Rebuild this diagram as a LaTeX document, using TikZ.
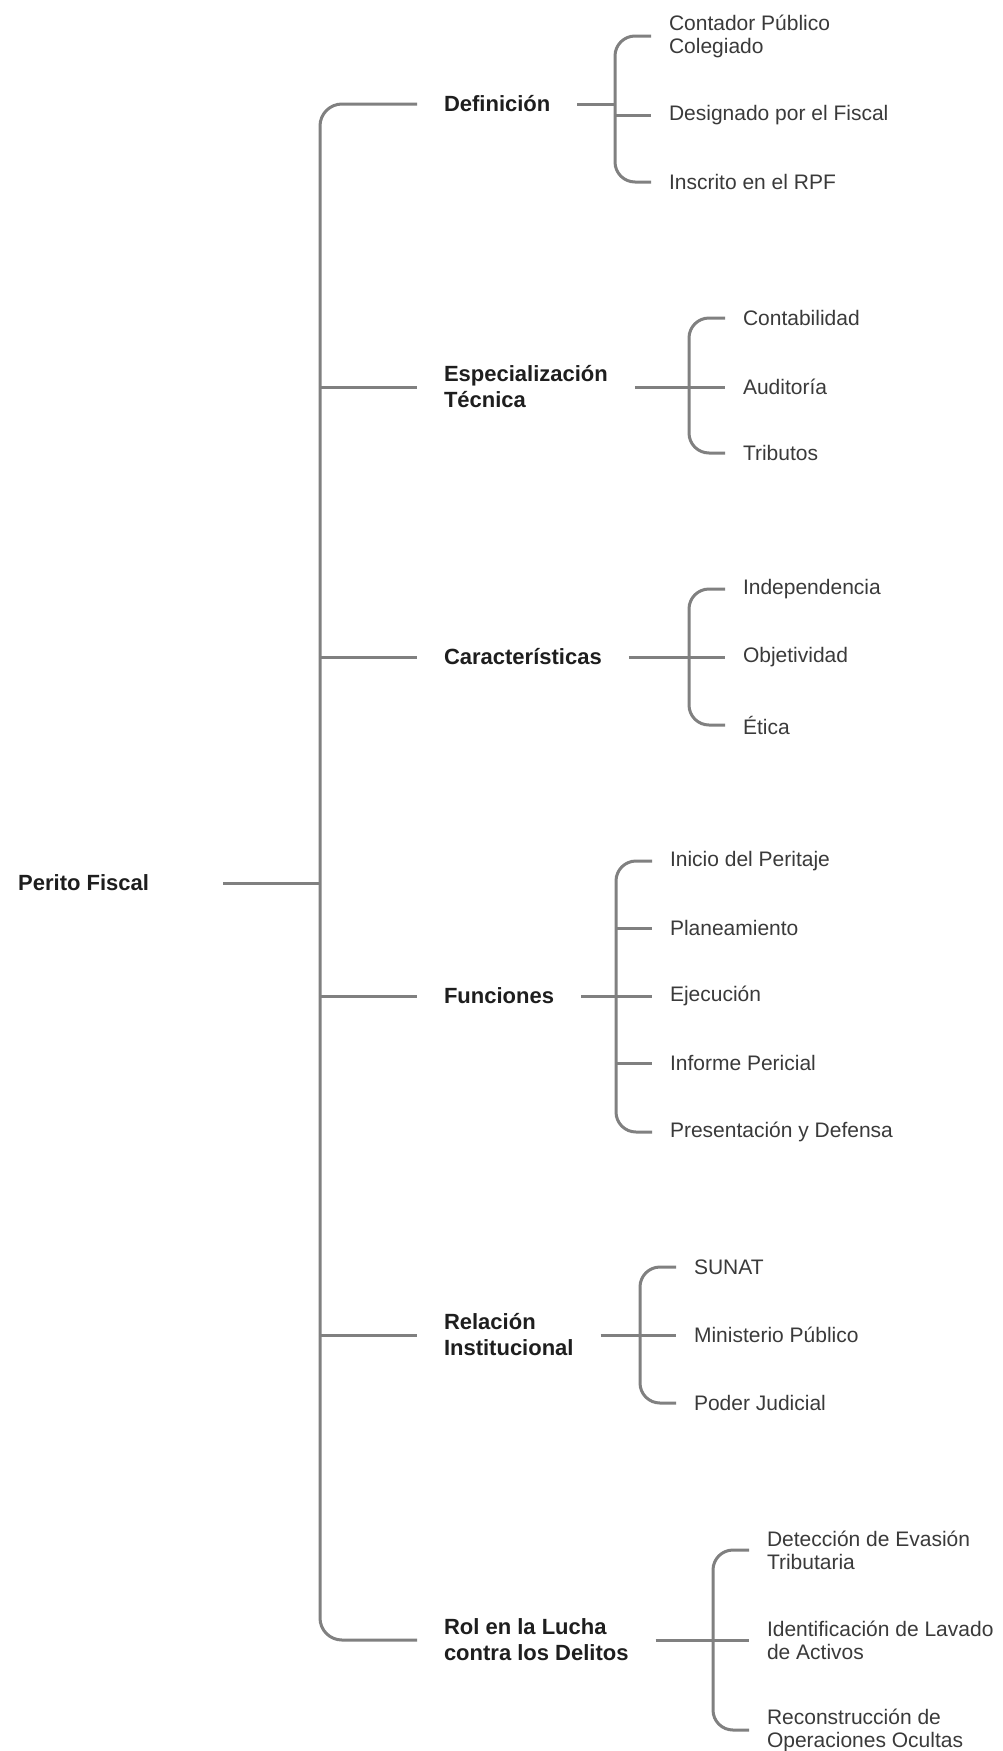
\documentclass[tikz,border=0pt]{standalone}
\usepackage{fontspec}
\setmainfont{Liberation Sans}
\usepackage{xcolor}
\usepackage{tikz}
\usetikzlibrary{positioning,calc}

\definecolor{linegray}{HTML}{808080}
\definecolor{inkdark}{HTML}{1E1E1E}
\definecolor{inkleaf}{HTML}{3A3A3A}

\tikzset{
  link/.style={draw=linegray, line width=3pt},
  rootlabel/.style={anchor=east, inner sep=0pt, outer xsep=74pt, text=inkdark,
    font=\fontsize{22}{26}\selectfont\bfseries},
  topic/.style={anchor=west, inner sep=0pt, outer xsep=27pt, align=left, text=inkdark,
    font=\fontsize{22}{26}\selectfont\bfseries},
  leaf/.style={anchor=west, inner sep=0pt, outer xsep=18pt, align=left, text=inkleaf,
    font=\fontsize{21}{23}\selectfont}
}

\begin{document}
\begin{tikzpicture}[x=1pt, y=-1pt]
    \fill[white] (0,0) rectangle (1002,1751);
    \useasboundingbox (0,0) rectangle (1002,1751);
    \def\trunkx{320}
    \def\topicx{417}

    % Root and trunk
    \coordinate (trunk) at (\trunkx,883);
    \node[rootlabel] (root) at (223,883) {Perito Fiscal};
    \node[topic] (def) at (\topicx,104) {Definición};
    \node[topic] (esp) at (\topicx,387) {Especialización\\Técnica};
    \node[topic] (car) at (\topicx,657) {Características};
    \node[topic] (fun) at (\topicx,996) {Funciones};
    \node[topic] (rel) at (\topicx,1335) {Relación\\Institucional};
    \node[topic] (rol) at (\topicx,1640) {Rol en la Lucha\\contra los Delitos};
    \draw[link] (root.east) -- (trunk);
    \draw[link, rounded corners=22pt] (def.west) -| (trunk) |- (rol.west);
    \foreach \n in {esp,car,fun,rel}
        \draw[link] (trunk |- \n.west) -- (\n.west);

    % Definición
    \coordinate (defb) at (615,104);
    \foreach \y/\t [count=\i] in {36/{Contador Público\\Colegiado}, 115/{Designado por el Fiscal}, 182/{Inscrito en el RPF}}
        \node[leaf] (def\i) at (651,\y) {\t};
    \draw[link] (def.east) -- (defb);
    \draw[link, rounded corners=20pt] (def1.west) -| (defb) |- (def3.west);
    \draw[link] (defb |- def2.west) -- (def2.west);

    % Especialización Técnica
    \coordinate (espb) at (689,387);
    \foreach \y/\t [count=\i] in {318/Contabilidad, 387/Auditoría, 453/Tributos}
        \node[leaf] (esp\i) at (725,\y) {\t};
    \draw[link] (esp.east) -- (espb);
    \draw[link, rounded corners=20pt] (esp1.west) -| (espb) |- (esp3.west);
    \draw[link] (espb |- esp2.west) -- (esp2.west);

    % Características
    \coordinate (carb) at (689,657);
    \foreach \y/\t [count=\i] in {589/Independencia, 657/Objetividad, 725/Ética}
        \node[leaf] (car\i) at (725,\y) {\t};
    \draw[link] (car.east) -- (carb);
    \draw[link, rounded corners=20pt] (car1.west) -| (carb) |- (car3.west);
    \draw[link] (carb |- car2.west) -- (car2.west);

    % Funciones
    \coordinate (funb) at (616,996);
    \foreach \y/\t [count=\i] in {861/Inicio del Peritaje, 928/Planeamiento, 996/Ejecución, 1063/Informe Pericial, 1132/Presentación y Defensa}
        \node[leaf] (fun\i) at (652,\y) {\t};
    \draw[link] (fun.east) -- (funb);
    \draw[link, rounded corners=20pt] (fun1.west) -| (funb) |- (fun5.west);
    \foreach \i in {2,3,4}
        \draw[link] (funb |- fun\i.west) -- (fun\i.west);

    % Relación Institucional
    \coordinate (relb) at (640,1335);
    \foreach \y/\t [count=\i] in {1267/SUNAT, 1335/Ministerio Público, 1403/Poder Judicial}
        \node[leaf] (rel\i) at (676,\y) {\t};
    \draw[link] (rel.east) -- (relb);
    \draw[link, rounded corners=20pt] (rel1.west) -| (relb) |- (rel3.west);
    \draw[link] (relb |- rel2.west) -- (rel2.west);

    % Rol en la Lucha contra los Delitos
    \coordinate (rolb) at (713,1640);
    \foreach \y/\t [count=\i] in {1550/{Detección de Evasión\\Tributaria}, 1640/{Identificación de Lavado\\de Activos}, 1730/{Reconstrucción de\\Operaciones Ocultas}}
        \node[leaf] (rol\i) at (749,\y) {\t};
    \draw[link] (rol.east) -- (rolb);
    \draw[link, rounded corners=20pt] (rol1.west) -| (rolb) |- (rol3.west);
    \draw[link] (rolb |- rol2.west) -- (rol2.west);
\end{tikzpicture}
\end{document}
